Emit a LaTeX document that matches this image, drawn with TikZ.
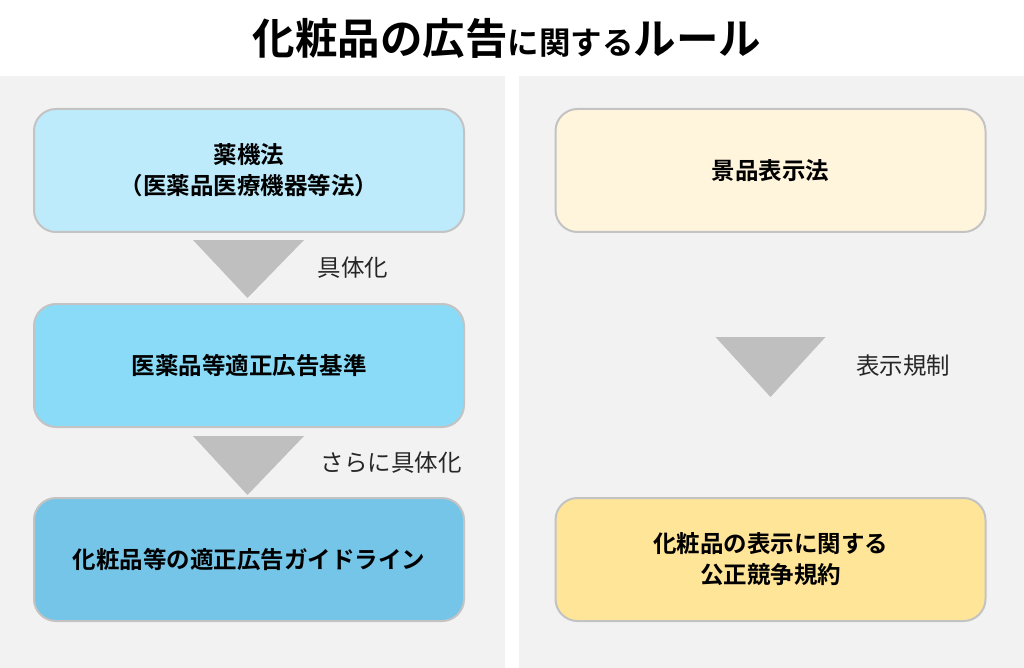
\documentclass[tikz,border=0pt]{standalone}
\usepackage{fontspec}
\setmainfont{Noto Sans CJK JP}[BoldFont={Noto Sans CJK JP Bold}]
\usepackage{xcolor}
\usetikzlibrary{positioning,calc}
\definecolor{kpanel}{HTML}{F2F2F2}
\definecolor{kline}{HTML}{C3C3C3}
\definecolor{ktri}{HTML}{BFBFBF}
\definecolor{kblueA}{HTML}{BDEBFC}
\definecolor{kblueB}{HTML}{89DBF8}
\definecolor{kblueC}{HTML}{74C5E8}
\definecolor{kyelA}{HTML}{FFF5DD}
\definecolor{kyelB}{HTML}{FFE598}

\begin{document}
\begin{tikzpicture}[
  x=1pt, y=-1pt,
  box/.style={draw=kline, line width=2pt, rounded corners=22pt, align=center,
    minimum width=430pt, minimum height=123pt, inner sep=0pt,
    font=\fontsize{23.5}{31}\selectfont\bfseries},
  tri/.style={fill=ktri},
  lbl/.style={font=\fontsize{23.5}{28}\selectfont, text=black!85}
]
\useasboundingbox (0,0) rectangle (1024,668);
\fill[white] (0,0) rectangle (1024,668);
% panels
\fill[kpanel] (0,76) rectangle (505,668);
\fill[kpanel] (519,76) rectangle (1024,668);
% title
\node[font=\fontsize{42.5}{48}\selectfont\bfseries] (title) at (507,38)
  {化粧品の広告{\fontsize{31.5}{36}\selectfont に関する}ルール};
% left column
\node[box, fill=kblueA] (yaku) at (249,170.5) {薬機法\\（医薬品医療機器等法）};
\node[box, fill=kblueB] (kijun) at (249,365.5) {医薬品等適正広告基準};
\node[box, fill=kblueC] (guide) at (249,559.5) {化粧品等の適正広告ガイドライン};
% right column
\node[box, fill=kyelA] (keihin) at (770.5,170.5) {景品表示法};
\node[box, fill=kyelB] (kiyaku) at (770.5,559.5) {化粧品の表示に関する\\公正競争規約};
% arrows
\fill[tri] ($(yaku.south)+(-56,7)$) -- ($(yaku.south)+(55,7)$) -- ($(kijun.north)+(-1.5,-5)$) -- cycle;
\fill[tri] ($(kijun.south)+(-56,8)$) -- ($(kijun.south)+(55,8)$) -- ($(guide.north)+(-1.5,-2)$) -- cycle;
\coordinate (mid) at ($(keihin.south)!0.5!(kiyaku.north)$);
\fill[tri] ($(mid)+(-55,-28)$) -- ($(mid)+(55,-28)$) -- ($(mid)+(0,32)$) -- cycle;
% labels
\node[lbl] (l1) at (353,268) {具体化};
\node[lbl] (l2) at (391,463) {さらに具体化};
\node[lbl] (l3) at (903,366) {表示規制};
\end{tikzpicture}
\end{document}
